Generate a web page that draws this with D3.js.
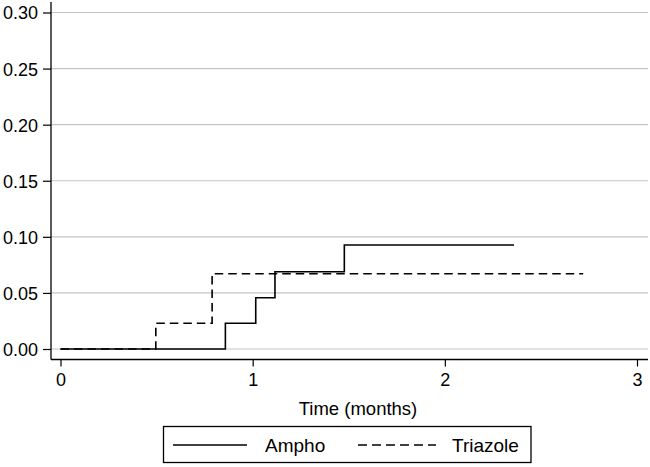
<!DOCTYPE html>
<html><head><meta charset="utf-8">
<script src="https://cdn.jsdelivr.net/npm/d3@7"></script>
<style>body{margin:0;background:#fff}svg{display:block}text{font-family:"Liberation Sans",Arial,sans-serif;fill:#000}</style>
</head><body><svg id="c" width="650" height="467"></svg>
<script>
const amphoTimes = [0, 0.858, 1.016, 1.116, 1.477, 2.36];
const amphoValues = [0, 0.0229, 0.0457, 0.0689, 0.0927, 0.0927];
const triazoleTimes = [0, 0.496, 0.789, 2.72];
const triazoleValues = [0, 0.0229, 0.0671, 0.0671];
const yTicks = [0, 0.05, 0.10, 0.15, 0.20, 0.25, 0.30];
const xTicks = [0, 1, 2, 3];
const seriesNames = ["Ampho", "Triazole"];

(function () {
const svg = d3.select("#c");
const x = d3.scaleLinear().domain([0, 3]).range([60.5, 637]);
const y = d3.scaleLinear().domain([0, 0.3]).range([349, 12.5]);
const pLeft = 51, pRight = 648, pBottom = 359.5, pTop = 2;
const FONT = '"Liberation Sans",Arial,sans-serif';

// gridlines
svg.append("g").selectAll("line").data(yTicks).join("line")
  .attr("x1", pLeft).attr("x2", pRight)
  .attr("y1", d => y(d)).attr("y2", d => y(d))
  .attr("stroke", "#c4c4c4").attr("stroke-width", 1.2);

// y axis
const ya = svg.append("g").attr("transform", `translate(${pLeft},0)`)
  .call(d3.axisLeft(y).tickValues(yTicks).tickFormat(d3.format(".2f")).tickSize(8).tickPadding(5).tickSizeOuter(0));
ya.select(".domain").attr("d", `M0,${pTop}V${pBottom}`).attr("stroke", "#000").attr("stroke-width", 1.3);
ya.selectAll("text").style("font-size", "18px").style("font-family", FONT).attr("dy", "0.36em");
ya.selectAll(".tick line").attr("stroke-width", 1.2);

// x axis
const xa = svg.append("g").attr("transform", `translate(0,${pBottom})`)
  .call(d3.axisBottom(x).tickValues(xTicks).tickFormat(d3.format("d")).tickSize(7).tickPadding(6.5).tickSizeOuter(0));
xa.select(".domain").attr("d", `M${pLeft},0H${pRight}`).attr("stroke", "#000").attr("stroke-width", 1.3);
xa.selectAll("text").style("font-size", "18px").style("font-family", FONT);
xa.selectAll(".tick line").attr("stroke-width", 1.2);

svg.append("text").attr("x", 358).attr("y", 414.5).attr("text-anchor", "middle")
  .style("font-size", "18.5px").text("Time (months)");

const line = d3.line().curve(d3.curveStepAfter).x(d => x(d[0])).y(d => y(d[1]));
const ampho = amphoTimes.map((t, i) => [t, amphoValues[i]]);
const tri = triazoleTimes.map((t, i) => [t, triazoleValues[i]]);

svg.append("path").attr("d", line(tri)).attr("fill", "none").attr("stroke", "#000")
  .attr("stroke-width", 1.6).attr("stroke-dasharray", "8.5,5");
svg.append("path").attr("d", line(ampho)).attr("fill", "none").attr("stroke", "#000")
  .attr("stroke-width", 1.6);

// legend
const lg = svg.append("g");
lg.append("rect").attr("x", 163.5).attr("y", 426.5).attr("width", 367.5).attr("height", 36)
  .attr("fill", "#fff").attr("stroke", "#000").attr("stroke-width", 1.3);
lg.append("line").attr("x1", 173).attr("x2", 247).attr("y1", 445).attr("y2", 445).attr("stroke", "#000").attr("stroke-width", 1.6);
lg.append("text").attr("x", 265).attr("y", 452).style("font-size", "19px").text(seriesNames[0]);
lg.append("line").attr("x1", 358).attr("x2", 436).attr("y1", 445).attr("y2", 445).attr("stroke", "#000").attr("stroke-width", 1.6).attr("stroke-dasharray", "9,5");
lg.append("text").attr("x", 452).attr("y", 452).style("font-size", "19px").text(seriesNames[1]);
})();
</script></body></html>
